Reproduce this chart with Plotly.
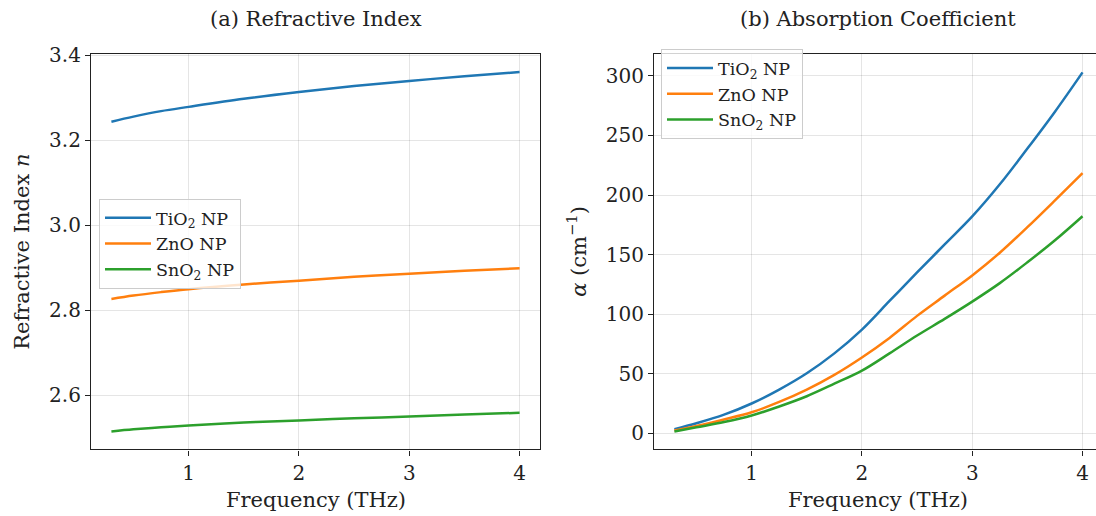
import plotly.graph_objects as go

# ---- data ----
freq_n = [0.3, 0.5, 0.75, 1.0, 1.5, 2.0, 2.5, 3.0, 3.5, 4.0]
n_tio2 = [3.244, 3.256, 3.269, 3.279, 3.298, 3.314, 3.328, 3.340, 3.351, 3.361]
n_zno = [2.827, 2.835, 2.843, 2.850, 2.861, 2.870, 2.879, 2.886, 2.893, 2.899]
n_sno2 = [2.515, 2.520, 2.525, 2.529, 2.536, 2.541, 2.546, 2.550, 2.555, 2.559]

freq_a = [0.3, 0.5, 0.75, 1.0, 1.25, 1.5, 1.75, 2.0, 2.25, 2.5, 2.75, 3.0, 3.25, 3.5, 3.75, 4.0]
a_tio2 = [3.3, 8.3, 15.5, 24.9, 36.6, 50.3, 67.0, 87.0, 111, 135, 158.5, 182, 209, 239, 270, 303]
a_zno = [2.2, 6.0, 11.5, 17.5, 26.2, 36.6, 49.0, 63.6, 80.0, 98.5, 115.5, 132.5, 151.5, 173, 195.5, 218.4]
a_sno2 = [1.4, 4.9, 9.3, 14.8, 22.4, 31.0, 41.5, 52.5, 67.0, 82.0, 96.0, 110.5, 126.0, 143.5, 162, 182.2]

names = ["TiO<sub>2</sub> NP", "ZnO NP", "SnO<sub>2</sub> NP"]
colors = ["#1f77b4", "#ff7f0e", "#2ca02c"]

x_ticks = [1, 2, 3, 4]
n_ticks = [2.6, 2.8, 3.0, 3.2, 3.4]
a_ticks = [0, 50, 100, 150, 200, 250, 300]

W, H = 1096, 516
FONT = "DejaVu Serif"
TICK = 20
LAB = 21
LEG = 17.5

fig = go.Figure()
for i, ys in enumerate([n_tio2, n_zno, n_sno2]):
    fig.add_trace(go.Scatter(x=freq_n, y=ys, mode="lines", name=names[i],
                             line=dict(color=colors[i], width=2.5, shape="spline", smoothing=1.0),
                             xaxis="x", yaxis="y", legend="legend", legendgroup="a%d" % i))
for i, ys in enumerate([a_tio2, a_zno, a_sno2]):
    fig.add_trace(go.Scatter(x=freq_a, y=ys, mode="lines", name=names[i],
                             line=dict(color=colors[i], width=2.5, shape="spline", smoothing=1.0),
                             xaxis="x2", yaxis="y2", legend="legend2", legendgroup="b%d" % i))

ydom = [1 - 448 / H, 1 - 44 / H]
axis_common = dict(showline=True, linecolor="#222", linewidth=1.2, ticks="outside", ticklen=5,
                   tickwidth=1.2, tickcolor="#222", showgrid=True, gridcolor="rgba(0,0,0,0.1)",
                   gridwidth=1, zeroline=False, tickfont=dict(family=FONT, size=TICK, color="#222"))

leg_common = dict(xanchor="left", yanchor="top", bgcolor="rgba(255,255,255,0.8)",
                  bordercolor="#cccccc", borderwidth=1,
                  font=dict(family=FONT, size=LEG, color="#222"), tracegroupgap=0, itemwidth=46)

fig.update_layout(
    width=W, height=H, plot_bgcolor="white", paper_bgcolor="white",
    margin=dict(l=0, r=0, t=0, b=0),
    font=dict(family=FONT, color="#222"),
    xaxis=dict(domain=[91 / W, 540 / W], range=[0.115, 4.185], tickvals=x_ticks, anchor="y",
               mirror=True, **axis_common),
    yaxis=dict(domain=ydom, range=[2.4727, 3.4033], tickvals=n_ticks, ticktext=["%.1f" % v for v in n_ticks],
               anchor="x", mirror=True, **axis_common),
    xaxis2=dict(domain=[654 / W, 1.0], range=[0.115, 4.122], tickvals=x_ticks, anchor="y2",
                mirror=True, **axis_common),
    yaxis2=dict(domain=ydom, range=[-13.7, 318.4], tickvals=a_ticks, anchor="x2", **axis_common),
    legend=dict(x=99 / W, y=1 - 192 / H, **leg_common),
    legend2=dict(x=661 / W, y=1 - 39 / H, **leg_common),
    showlegend=True,
)

ann = [
    dict(text="(a) Refractive Index", x=315.5 / W, y=1 - 8 / H, font=dict(size=LAB)),
    dict(text="(b) Absorption Coefficient", x=878 / W, y=1 - 8 / H, font=dict(size=LAB)),
    dict(text="Frequency (THz)", x=315.5 / W, y=1 - 500 / H, font=dict(size=LAB)),
    dict(text="Frequency (THz)", x=878 / W, y=1 - 500 / H, font=dict(size=LAB)),
    dict(text="Refractive Index <i>n</i>", x=22 / W, y=1 - 246 / H, textangle=-90, font=dict(size=LAB)),
    dict(text="<i>α</i> (cm<sup>−1</sup>)", x=577 / W, y=1 - 246 / H, textangle=-90, font=dict(size=LAB)),
]
for a in ann:
    a.update(xref="paper", yref="paper", showarrow=False, xanchor="center", yanchor="middle")
    a["font"].update(family=FONT, color="#222")
    fig.add_annotation(**a)

fig.write_html("out.html", config={"displayModeBar": False},
               post_script="document.body.style.margin='0';document.body.style.padding='0';")
